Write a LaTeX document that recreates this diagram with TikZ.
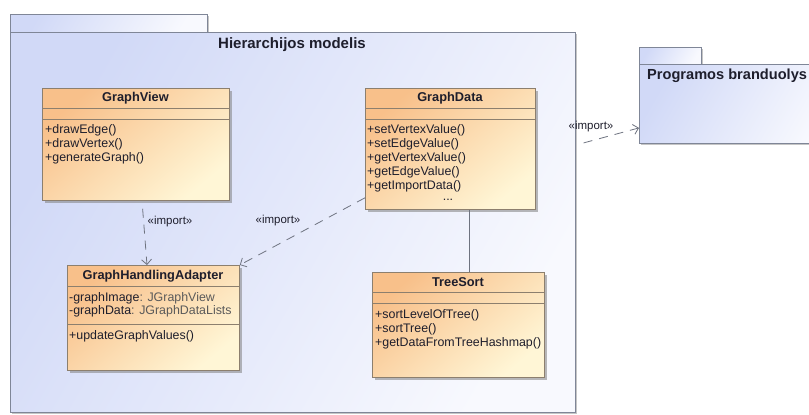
\documentclass[tikz,border=0pt]{standalone}
\usepackage{fontspec}
\setmainfont{Liberation Sans}
\usetikzlibrary{arrows.meta,calc,shadows}

\definecolor{pkgA}{HTML}{D1D9F7}
\definecolor{pkgB}{HTML}{F8F9FE}
\definecolor{pkgEdge}{HTML}{7F8697}
\definecolor{clsA}{HTML}{F8C08A}
\definecolor{clsB}{HTML}{FFF6D6}
\definecolor{clsEdge}{HTML}{8C7F6E}
\definecolor{depLine}{HTML}{6E7380}
\definecolor{txt}{HTML}{1E1E2C}
\definecolor{typeTxt}{HTML}{5A5A5A}

\tikzset{
  pkgshade/.style={draw=pkgEdge, line width=0.9pt, top color=pkgA, bottom color=pkgB, shading angle=60},
  pkgbody/.style={pkgshade, rectangle, inner sep=0pt, anchor=north west,
    drop shadow={shadow xshift=2pt, shadow yshift=-2pt, fill=black!45, opacity=0.5}},
  classbox/.style={rectangle, inner sep=0pt, anchor=north west, draw=clsEdge, line width=0.8pt,
    top color=clsA, bottom color=clsB, shading angle=40,
    drop shadow={shadow xshift=2.5pt, shadow yshift=-2.5pt, fill=black!50, opacity=0.55}},
  compline/.style={draw=clsEdge, line width=0.7pt},
  clsname/.style={font=\fontsize{12.8}{14}\selectfont\bfseries, text=txt, inner sep=0pt},
  members/.style={font=\fontsize{12.4}{14}\selectfont, text=txt, align=left, anchor=north west, inner sep=0pt},
  pkgtitle/.style={font=\fontsize{15}{17}\selectfont\bfseries, text=txt, inner sep=0pt},
  importdep/.style={draw=depLine, line width=0.8pt, dash pattern=on 9pt off 7pt,
    -{Straight Barb[length=5pt, width=10pt, line width=0.8pt]}},
  deplabel/.style={font=\fontsize{11.5}{13}\selectfont, text=txt, inner sep=0pt},
  assoc/.style={draw=depLine, line width=0.9pt},
}

\begin{document}
\begin{tikzpicture}[x=1pt, y=-1pt]
\clip (0,0) rectangle (809,415);
\fill[white] (0,0) rectangle (809,415);

% package "Hierarchijos modelis"
\node[pkgbody, minimum width=197pt, minimum height=18pt] (hmtab) at (10,14) {};
\node[pkgbody, minimum width=565pt, minimum height=380pt] (hm) at (10,32) {};
\node[pkgtitle] (hmtitle) at (292,45) {Hierarchijos modelis};

% package "Programos branduolys"
\node[pkgbody, minimum width=62pt, minimum height=17pt] (pbtab) at (639,47) {};
\node[pkgbody, minimum width=200pt, minimum height=79pt] (pb) at (639,64) {};
\node[pkgtitle, anchor=west, font=\fontsize{14.6}{17}\selectfont\bfseries] (pbtitle) at (647,76) {Programos branduolys};

% class GraphView
\node[classbox, minimum width=187pt, minimum height=112pt] (gv) at (42,88) {};
\node[clsname] (gvname) at (135.5,98) {GraphView};
\draw[compline] ($(gv.north west)+(0,20)$) -- ($(gv.north east)+(0,20)$);
\draw[compline] ($(gv.north west)+(0,31)$) -- ($(gv.north east)+(0,31)$);
\node[members] (gvops) at (45,124) {+drawEdge()\\+drawVertex()\\+generateGraph()};

% class GraphData
\node[classbox, minimum width=170pt, minimum height=121pt] (gd) at (365,88) {};
\node[clsname] (gdname) at (450,98) {GraphData};
\draw[compline] ($(gd.north west)+(0,20)$) -- ($(gd.north east)+(0,20)$);
\draw[compline] ($(gd.north west)+(0,31)$) -- ($(gd.north east)+(0,31)$);
\node[members] (gdops) at (367,124) {+setVertexValue()\\+setEdgeValue()\\+getVertexValue()\\+getEdgeValue()\\+getImportData()};
\node[members, anchor=center] (gdmore) at (448,200) {...};

% class GraphHandlingAdapter
\node[classbox, minimum width=172pt, minimum height=105pt] (gha) at (67,265) {};
\node[clsname] (ghaname) at (153,276) {GraphHandlingAdapter};
\draw[compline] ($(gha.north west)+(0,21)$) -- ($(gha.north east)+(0,21)$);
\draw[compline] ($(gha.north west)+(0,59)$) -- ($(gha.north east)+(0,59)$);
\node[members, font=\fontsize{12.4}{13.5}\selectfont] (ghaattr) at (69,292) {-graphImage\textcolor{typeTxt}{ : JGraphView}\\-graphData\textcolor{typeTxt}{ : JGraphDataLists}};
\node[members] (ghaops) at (69,330) {+updateGraphValues()};

% class TreeSort
\node[classbox, minimum width=172pt, minimum height=105pt] (ts) at (372,272) {};
\node[clsname] (tsname) at (458,282) {TreeSort};
\draw[compline] ($(ts.north west)+(0,20)$) -- ($(ts.north east)+(0,20)$);
\draw[compline] ($(ts.north west)+(0,31)$) -- ($(ts.north east)+(0,31)$);
\node[members] (tsops) at (375,309) {+sortLevelOfTree()\\+sortTree()\\+getDataFromTreeHashmap()};

% association GraphData -- TreeSort
\draw[assoc] ($(gd.south west)+(104,0)$) -- ($(ts.north west)+(97,0)$);

% import dependencies
\draw[importdep, shorten <=8pt] ($(gv.south west)+(100,0)$) -- ($(gha.north west)+(80,0)$);
\node[deplabel] (imp1) at (170,222) {«import»};

\draw[importdep] ($(gd.south west)+(0,-12)$) -- (gha.north east);
\node[deplabel] (imp2) at (278,221) {«import»};

\draw[importdep, shorten <=8pt] ($(hm.north east)+(0,113)$) -- ($(pb.south west)+(0,-16)$);
\node[deplabel] (imp3) at (591,127) {«import»};
\end{tikzpicture}
\end{document}
